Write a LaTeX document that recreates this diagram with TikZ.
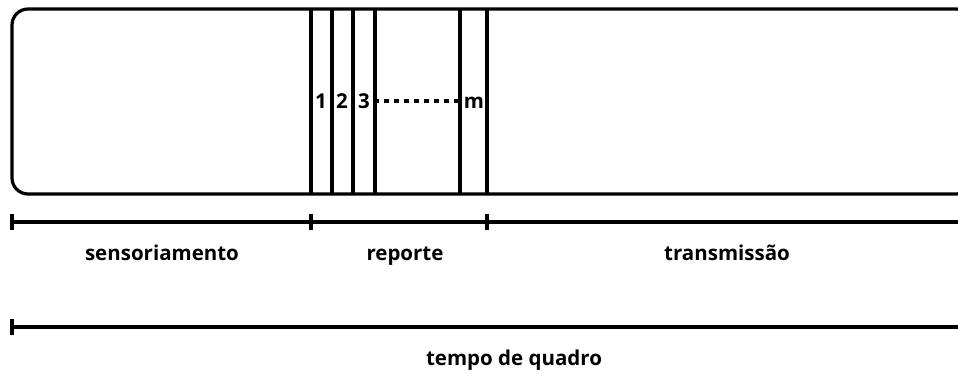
\documentclass[tikz,border=0pt]{standalone}
\usepackage{fontspec}
\setmainfont{Open Sans}
\usepackage{xcolor}

\begin{document}
\begin{tikzpicture}[x=1pt, y=-1pt, line width=3.2pt,
        lbl/.style={font=\bfseries\fontsize{20.5}{24}\selectfont, inner sep=0pt, anchor=base},
        tickbar/.style={line width=4pt}]
        \useasboundingbox (0,0) rectangle (958,376);
        \clip (0,0) rectangle (958,376);
        % frame
        \draw[black, rounded corners=16pt] (12,9) rectangle (972,194);
        \foreach \x in {311,332,353,375,460,487}
            \draw[black] (\x,9) -- (\x,194);
        \node[lbl] (n1) at (321,108) {1};
        \node[lbl] (n2) at (342,108) {2};
        \node[lbl] (n3) at (364,108) {3};
        \node[lbl] (nm) at (474,108) {m};
        \draw[black, line width=4.5pt, dash pattern=on 4.5pt off 5.5pt] ([xshift=3pt]n3.east |- 0,101) -- ([xshift=-2pt]nm.west |- 0,101);
        % time axes
        \coordinate (a0) at (12,222);
        \coordinate (a1) at (311,222);
        \coordinate (a2) at (487,222);
        \coordinate (a3) at (958,222);
        \coordinate (b0) at (12,327);
        \coordinate (b1) at (958,327);
        \draw[black] (a0) -- (a3);
        \draw[black] (b0) -- (b1);
        \foreach \p in {a0,a1,a2,b0}
            \draw[black, tickbar] (\p) ++(0,-8) -- ++(0,16);
        \node[lbl] (sens) at (162,260) {sensoriamento};
        \node[lbl] (rep) at (405,260) {reporte};
        \node[lbl] (trans) at (727,260) {transmissão};
        \node[lbl] (quadro) at (514,365) {tempo de quadro};
    \end{tikzpicture}
\end{document}
